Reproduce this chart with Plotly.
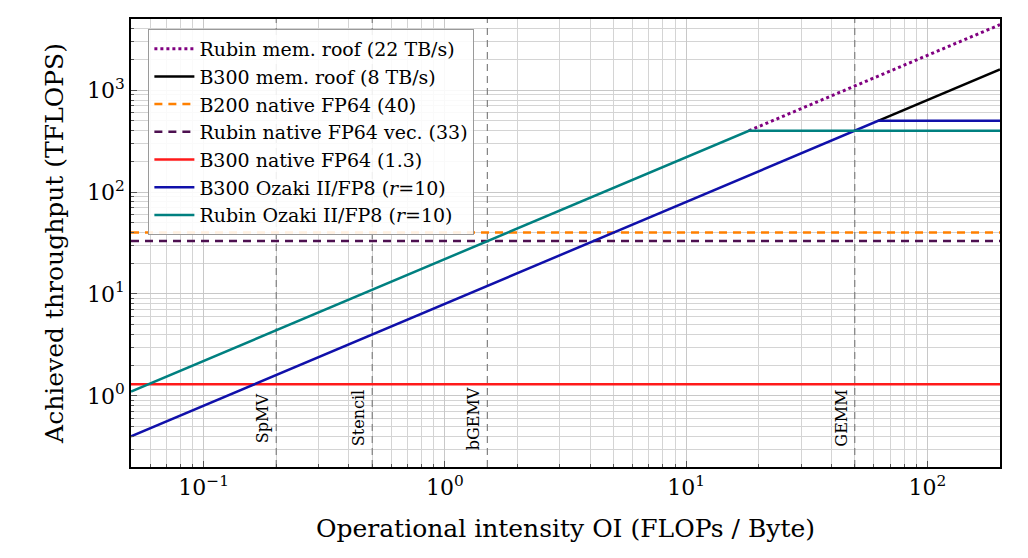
import math
import plotly.graph_objects as go

# ---- data ----
rubin_roof_x = [18.2, 200]
rubin_roof_y = [400, 4400]
b300_roof_x = [62.5, 200]
b300_roof_y = [500, 1600]
b200_fp64_x = [0.05, 200]
b200_fp64_y = [40, 40]
rubin_fp64_x = [0.05, 200]
rubin_fp64_y = [33, 33]
b300_fp64_x = [0.05, 200]
b300_fp64_y = [1.3, 1.3]
b300_ozaki_x = [0.05, 62.5, 200]
b300_ozaki_y = [0.4, 500, 500]
rubin_ozaki_x = [0.05, 18.2, 200]
rubin_ozaki_y = [1.1, 400, 400]

kernel_names = ["SpMV", "Stencil", "bGEMV", "GEMM"]
kernel_oi = [0.2, 0.5, 1.5, 50]

x_range = [0.05, 200]
y_range = [0.2, 5000]
x_tickvals = [0.1, 1, 10, 100]
x_ticktext = ["10<sup>\u22121</sup>", "10<sup>0</sup>", "10<sup>1</sup>", "10<sup>2</sup>"]
y_tickvals = [1, 10, 100, 1000]
y_ticktext = ["10<sup>0</sup>", "10<sup>1</sup>", "10<sup>2</sup>", "10<sup>3</sup>"]

FONT = "DejaVu Serif"

fig = go.Figure()

# kernel vertical dashed lines
for name, v in zip(kernel_names, kernel_oi):
    fig.add_trace(go.Scatter(x=[v, v], y=y_range, mode="lines",
                             line=dict(color="#808080", width=1.2, dash="7px,5px"),
                             showlegend=False, hoverinfo="skip"))
    fig.add_annotation(x=math.log10(v), y=math.log10(0.6), text=name, textangle=-90,
                       showarrow=False, xanchor="right", yanchor="middle", xshift=-2,
                       font=dict(family=FONT, size=16, color="black"))

fig.add_trace(go.Scatter(x=rubin_roof_x, y=rubin_roof_y, mode="lines",
                         name="Rubin mem. roof (22 TB/s)",
                         line=dict(color="#800080", width=3, dash="dot")))
fig.add_trace(go.Scatter(x=b300_roof_x, y=b300_roof_y, mode="lines",
                         name="B300 mem. roof (8 TB/s)",
                         line=dict(color="black", width=2.5)))
fig.add_trace(go.Scatter(x=b200_fp64_x, y=b200_fp64_y, mode="lines",
                         name="B200 native FP64 (40)",
                         line=dict(color="#ff8000", width=2.5, dash="8px,6px")))
fig.add_trace(go.Scatter(x=rubin_fp64_x, y=rubin_fp64_y, mode="lines",
                         name="Rubin native FP64 vec. (33)",
                         line=dict(color="#4d1050", width=2.5, dash="8px,6px")))
fig.add_trace(go.Scatter(x=b300_fp64_x, y=b300_fp64_y, mode="lines",
                         name="B300 native FP64 (1.3)",
                         line=dict(color="#ff1a1a", width=2.5)))
fig.add_trace(go.Scatter(x=b300_ozaki_x, y=b300_ozaki_y, mode="lines",
                         name="B300 Ozaki II/FP8 (<i>r</i>=10)",
                         line=dict(color="#1010aa", width=2.5)))
fig.add_trace(go.Scatter(x=rubin_ozaki_x, y=rubin_ozaki_y, mode="lines",
                         name="Rubin Ozaki II/FP8 (<i>r</i>=10)",
                         line=dict(color="#008080", width=2.5)))

grid_minor = [m * 10 ** k for k in range(-2, 4) for m in range(2, 10)]

axis_common = dict(
    type="log",
    showline=True, linecolor="black", linewidth=1.5, mirror=True,
    ticks="inside", ticklen=6, tickcolor="#555",
    showgrid=True, gridcolor="#c8c8c8", gridwidth=1,
    tickfont=dict(family=FONT, size=22, color="black"),
    zeroline=False,
)

fig.update_xaxes(**axis_common,
                 range=[math.log10(x_range[0]), math.log10(x_range[1])],
                 tickmode="array", tickvals=x_tickvals, ticktext=x_ticktext,
                 minor=dict(tickmode="array", tickvals=grid_minor, showgrid=True,
                            gridcolor="#d4d4d4", gridwidth=1, ticks="inside", ticklen=3),
                 title=dict(text="Operational intensity OI (FLOPs / Byte)",
                            font=dict(family=FONT, size=25, color="black"), standoff=20))
fig.update_yaxes(**axis_common,
                 range=[math.log10(y_range[0]), math.log10(y_range[1])],
                 tickmode="array", tickvals=y_tickvals, ticktext=y_ticktext,
                 minor=dict(tickmode="array", tickvals=grid_minor, showgrid=True,
                            gridcolor="#d4d4d4", gridwidth=1, ticks="inside", ticklen=3),
                 title=dict(text="Achieved throughput (TFLOPS)",
                            font=dict(family=FONT, size=25, color="black"), standoff=16))

fig.update_layout(
    width=1028, height=558,
    margin=dict(l=131, r=28, t=19, b=91),
    paper_bgcolor="white", plot_bgcolor="white",
    font=dict(family=FONT, color="black"),
    legend=dict(x=0.02, y=0.978, xanchor="left", yanchor="top",
                bgcolor="rgba(255,255,255,0.88)", bordercolor="#9a9a9a", borderwidth=1,
                font=dict(family=FONT, size=19, color="black"),
                itemwidth=40),
)

fig.write_html("out.html")
